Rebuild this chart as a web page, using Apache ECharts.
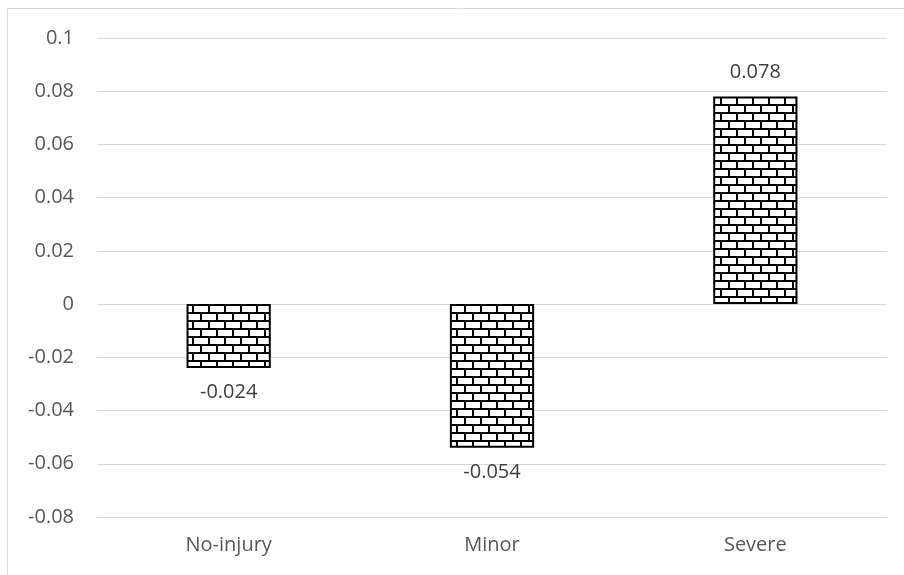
<!DOCTYPE html>
<html><head><meta charset="utf-8">
<script src="https://cdn.jsdelivr.net/npm/echarts@6/dist/echarts.min.js"></script>
<style>html,body{margin:0;padding:0;background:#fff}#c{width:904px;height:575px}</style>
</head><body><div id="c"></div>
<script>
const categories = ['No-injury', 'Minor', 'Severe'];
const values = [-0.024, -0.054, 0.078];
const yTicks = [-0.08, -0.06, -0.04, -0.02, 0, 0.02, 0.04, 0.06, 0.08, 0.1];

function brick() {
  const c = document.createElement('canvas');
  c.width = 16; c.height = 16;
  const g = c.getContext('2d');
  g.fillStyle = '#fff'; g.fillRect(0, 0, 16, 16);
  g.fillStyle = '#000';
  g.fillRect(0, 0, 16, 2);
  g.fillRect(0, 8, 16, 2);
  g.fillRect(0, 0, 2, 8);
  g.fillRect(8, 8, 2, 8);
  return c;
}

const chart = echarts.init(document.getElementById('c'), null, {renderer: 'canvas'});
chart.setOption({
  animation: false,
  graphic: [{type: 'rect', shape: {x: 7.5, y: 8.5, width: 1000, height: 1000}, style: {fill: 'none', stroke: '#d9d9d9', lineWidth: 1}, silent: true, z: -1}],
  grid: {left: 97, right: 17, top: 38, bottom: 58},
  xAxis: {
    type: 'category', data: categories,
    axisLine: {show: false}, axisTick: {show: false},
    axisLabel: {color: '#595959', fontSize: 20, fontFamily: 'Open Sans', margin: 18}
  },
  yAxis: {
    type: 'value', min: -0.08, max: 0.1, interval: 0.02,
    axisLine: {show: false}, axisTick: {show: false},
    splitLine: {lineStyle: {color: '#d9d9d9', width: 1}},
    axisLabel: {color: '#595959', fontSize: 20, fontFamily: 'Open Sans', margin: 23,
      formatter: v => { const r = Math.round(v * 100) / 100; return yTicks.includes(r) ? String(r) : ''; }}
  },
  series: [{
    type: 'bar', data: values, barWidth: '32%',
    itemStyle: {color: {image: brick(), repeat: 'repeat'}, borderColor: '#000', borderWidth: 2},
    label: {show: true, position: 'outside', color: '#404040', fontSize: 20, fontFamily: 'Open Sans', distance: 14,
      formatter: p => String(p.value)}
  }]
});
</script></body></html>
